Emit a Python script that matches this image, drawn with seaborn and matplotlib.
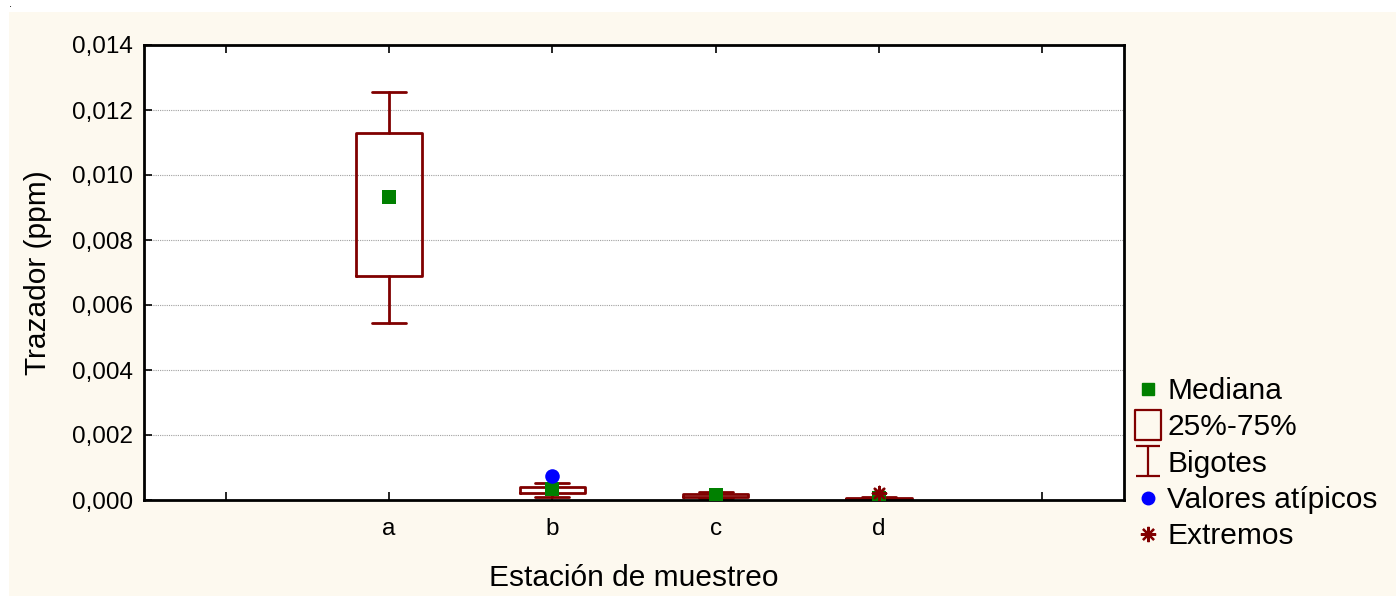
import numpy as np
import pandas as pd
import matplotlib
matplotlib.use("Agg")
import matplotlib.pyplot as plt
from matplotlib.lines import Line2D
from matplotlib.patches import Rectangle
from matplotlib.path import Path
import seaborn as sns

# Summary statistics per sampling station
stations = ["a", "b", "c", "d"]
q1 = [0.00689, 0.00021, 0.00009, 0.00003]
q3 = [0.01128, 0.00039, 0.00018, 0.00007]
medians = [0.00932, 0.00033, 0.00016, 0.00005]
whisker_lo = [0.00545, 0.00009, 0.00005, 0.00001]
whisker_hi = [0.01255, 0.00051, 0.00025, 0.00010]

outlier_station = ["b"]
outlier_value = [0.00074]
extreme_station = ["d"]
extreme_value = [0.00022]

y_ticks = [0.000, 0.002, 0.004, 0.006, 0.008, 0.010, 0.012, 0.014]

BOX_RED = "#800000"
MED_GREEN = "#008000"
OUT_BLUE = "#0000ff"
CREAM = "#fdf9ef"

sns.set_theme(style="white")
plt.rcParams["font.family"] = ["Liberation Sans", "DejaVu Sans"]
plt.rcParams["text.color"] = "black"
plt.rcParams["axes.labelcolor"] = "black"

fig = plt.figure(figsize=(13.96, 5.97), dpi=100)
fig.patch.set_facecolor("white")
W, H = 1396, 597
fig.patches.append(Rectangle((9 / W, 1 - 596 / H), (W - 9) / W, (596 - 12) / H,
                             transform=fig.transFigure, facecolor=CREAM,
                             edgecolor="none", zorder=-10))
fig.text(10 / W, 1 - 4 / H, ".", fontsize=8, ha="center", va="center")

ax = fig.add_axes([144 / W, 1 - 500 / H, (1124 - 144) / W, (500 - 45) / H])
ax.set_facecolor("white")

pos = {s: i for i, s in enumerate(stations)}

stats = []
for s, a, b, m, lo, hi in zip(stations, q1, q3, medians, whisker_lo, whisker_hi):
    stats.append(dict(label=s, q1=a, q3=b, med=m, whislo=lo, whishi=hi, fliers=[]))

ax.bxp(stats, positions=[pos[s] for s in stations], widths=0.4, capwidths=0.21,
       showfliers=False, patch_artist=False,
       boxprops=dict(color=BOX_RED, linewidth=2),
       whiskerprops=dict(color=BOX_RED, linewidth=2),
       capprops=dict(color=BOX_RED, linewidth=2),
       medianprops=dict(linewidth=0), manage_ticks=False)

med_df = pd.DataFrame({"x": [pos[s] for s in stations], "y": medians})
sns.scatterplot(data=med_df, x="x", y="y", marker="s", s=110, color=MED_GREEN,
                edgecolor=MED_GREEN, linewidth=0, ax=ax, zorder=5)

out_df = pd.DataFrame({"x": [pos[s] for s in outlier_station], "y": outlier_value})
sns.scatterplot(data=out_df, x="x", y="y", marker="o", s=110, color=OUT_BLUE,
                edgecolor=OUT_BLUE, linewidth=0, ax=ax, zorder=6)

ext_df = pd.DataFrame({"x": [pos[s] for s in extreme_station], "y": extreme_value})
ax.scatter(ext_df["x"], ext_df["y"], marker=(8, 2, 0), s=90, color=BOX_RED,
           linewidths=1.8, zorder=6)

ax.set_xlim(-1.5, len(stations) + 0.5)
ax.set_ylim(0, 0.014)
ax.set_xticks(range(-1, len(stations) + 1))
ax.set_xticklabels([""] + stations + [""])
ax.set_yticks(y_ticks)
ax.set_yticklabels([f"{v:.3f}".replace(".", ",") for v in y_ticks])
ax.yaxis.grid(True, linestyle=(0, (1, 1)), color="#a0a0a0", linewidth=0.8)
ax.xaxis.grid(False)
ax.set_axisbelow(True)

ax.tick_params(axis="both", direction="in", length=6, width=1.2, color="black",
               labelsize=17.5, labelcolor="black", top=True, bottom=True,
               left=True, right=False)
ax.tick_params(axis="x", pad=13)
ax.tick_params(axis="y", pad=8)
for sp in ax.spines.values():
    sp.set_visible(True)
    sp.set_color("black")
    sp.set_linewidth(2)

ax.set_xlabel("Estación de muestreo", fontsize=21.5, color="black", labelpad=17)
ax.set_ylabel("Trazador (ppm)", fontsize=21.5, color="black", labelpad=14)

# Legend symbols
rect_path = Path([(-0.86, -1), (0.86, -1), (0.86, 1), (-0.86, 1), (-0.86, -1)],
                 [Path.MOVETO, Path.LINETO, Path.LINETO, Path.LINETO, Path.CLOSEPOLY])
cap_path = Path([(-0.85, 1), (0.85, 1), (0, 1), (0, -1), (-0.85, -1), (0.85, -1)],
                [Path.MOVETO, Path.LINETO, Path.MOVETO, Path.LINETO,
                 Path.MOVETO, Path.LINETO])
handles = [
    Line2D([], [], linestyle="none", marker="s", markersize=9,
           markerfacecolor=MED_GREEN, markeredgecolor=MED_GREEN),
    Line2D([], [], linestyle="none", marker=rect_path, markersize=21,
           markerfacecolor="none", markeredgecolor=BOX_RED, markeredgewidth=1.6),
    Line2D([], [], linestyle="none", marker=cap_path, markersize=21,
           markerfacecolor="none", markeredgecolor=BOX_RED, markeredgewidth=1.6),
    Line2D([], [], linestyle="none", marker="o", markersize=9,
           markerfacecolor=OUT_BLUE, markeredgecolor=OUT_BLUE),
    Line2D([], [], linestyle="none", marker=(8, 2, 0), markersize=11,
           markeredgecolor=BOX_RED, markeredgewidth=1.6),
]
labels = ["Mediana", "25%-75%", "Bigotes", "Valores atípicos", "Extremos"]
fig.legend(handles, labels, loc="upper left",
           bbox_to_anchor=(1127 / W, 1 - 371 / H), frameon=False,
           fontsize=21.5, labelcolor="black", handlelength=1.0, handletextpad=0.15,
           labelspacing=0.28, borderpad=0.2, borderaxespad=0)

fig.savefig("out.png", dpi=100, facecolor=fig.get_facecolor())
